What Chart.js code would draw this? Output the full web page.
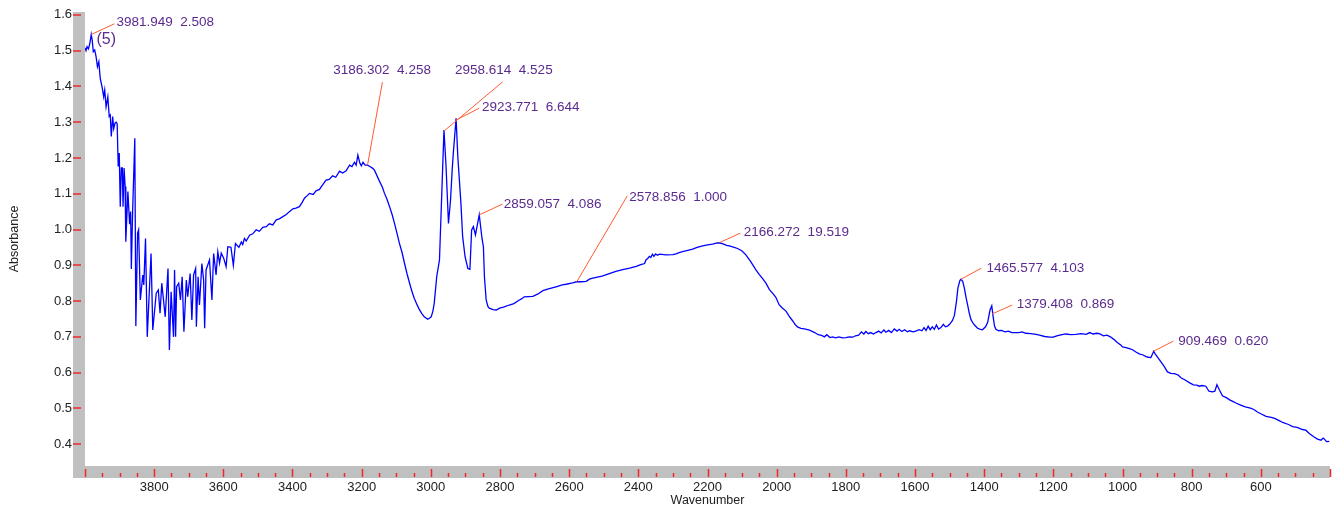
<!DOCTYPE html>
<html>
<head>
<meta charset="utf-8">
<script src="https://cdn.jsdelivr.net/npm/chart.js@4.4.1/dist/chart.umd.min.js"></script>
<style>
  html, body { margin: 0; padding: 0; background: #fff; }
  #wrap { width: 1333px; height: 508px; }
</style>
</head>
<body>
<div id="wrap"><canvas id="irChart" width="1333" height="508"></canvas></div>
<script>
// spectrum (cm-1, absorbance), 10 per row
const wavenumbers = [
  4000, 3997, 3994, 3990, 3986, 3982, 3979, 3976, 3972, 3968,
  3964, 3960, 3956, 3950, 3946, 3943, 3939, 3934, 3930, 3927,
  3924, 3920, 3917, 3913, 3910, 3907, 3904, 3901, 3898, 3895,
  3892, 3890, 3887, 3884, 3882, 3876, 3871, 3868, 3866, 3862,
  3856, 3853, 3848, 3845, 3840, 3833, 3830, 3825, 3820, 3809,
  3804, 3794, 3788, 3783, 3778, 3768, 3760, 3756, 3751, 3744,
  3741, 3738, 3735, 3729, 3724, 3719, 3714, 3707, 3703, 3696,
  3691, 3686, 3680, 3678, 3673, 3669, 3662, 3657, 3654, 3650,
  3640, 3633, 3628, 3621, 3616, 3611, 3606, 3599, 3592, 3587,
  3578, 3571, 3565, 3555, 3548, 3544, 3539, 3534, 3524, 3515,
  3505, 3496, 3486, 3476, 3467, 3457, 3447, 3438, 3428, 3418,
  3409, 3399, 3390, 3380, 3372, 3365, 3358, 3351, 3340, 3332,
  3322, 3315, 3303, 3294, 3284, 3275, 3264, 3255, 3245, 3235,
  3228, 3221, 3216, 3211, 3205, 3201, 3196, 3190, 3183, 3176,
  3168, 3163, 3149, 3140, 3134, 3127, 3120, 3112, 3105, 3098,
  3091, 3083, 3076, 3069, 3062, 3055, 3048, 3040, 3033, 3026,
  3019, 3009, 3004, 2999, 2994, 2990, 2983, 2975, 2970, 2962,
  2956, 2949, 2943, 2938, 2935, 2927, 2922, 2913, 2908, 2901,
  2893, 2887, 2882, 2877, 2871, 2860, 2852, 2848, 2845, 2840,
  2835, 2831, 2820, 2811, 2801, 2790, 2773, 2760, 2744, 2738,
  2730, 2705, 2690, 2676, 2660, 2638, 2620, 2609, 2590, 2578,
  2565, 2551, 2540, 2522, 2505, 2484, 2465, 2445, 2425, 2406,
  2395, 2382, 2378, 2373, 2368, 2364, 2359, 2355, 2350, 2345,
  2339, 2320, 2300, 2291, 2280, 2272, 2260, 2243, 2230, 2214,
  2200, 2185, 2175, 2166, 2155, 2145, 2137, 2125, 2113, 2100,
  2089, 2075, 2060, 2050, 2040, 2031, 2021, 2010, 2002, 1993,
  1983, 1973, 1964, 1954, 1947, 1940, 1930, 1920, 1905, 1890,
  1880, 1870, 1862, 1855, 1846, 1838, 1830, 1820, 1810, 1800,
  1790, 1780, 1772, 1763, 1755, 1748, 1742, 1735, 1728, 1720,
  1713, 1705, 1698, 1690, 1684, 1676, 1668, 1660, 1652, 1646,
  1638, 1630, 1622, 1616, 1605, 1596, 1588, 1580, 1574, 1568,
  1562, 1556, 1550, 1544, 1538, 1532, 1525, 1518, 1512, 1506,
  1500, 1492, 1486, 1480, 1476, 1470, 1467, 1462, 1457, 1452,
  1447, 1443, 1438, 1432, 1428, 1419, 1411, 1405, 1396, 1390,
  1383, 1378, 1374, 1370, 1366, 1358, 1350, 1340, 1330, 1320,
  1300, 1290, 1280, 1265, 1250, 1240, 1225, 1210, 1200, 1190,
  1175, 1164, 1150, 1135, 1120, 1105, 1095, 1085, 1075, 1067,
  1055, 1045, 1035, 1025, 1015, 1005, 1000, 990, 980, 971,
  960, 950, 942, 932, 925, 918, 912, 910, 905, 894,
  880, 870, 860, 850, 840, 830, 820, 807, 795, 785,
  778, 770, 759, 750, 740, 733, 727, 720, 711, 700,
  690, 680, 672, 660, 645, 630, 620, 610, 600, 585,
  570, 560, 547, 535, 520, 508, 495, 480, 470, 460,
  446, 436, 426, 420, 416, 410, 402
];
const absorbance = [
  1.508, 1.500, 1.511, 1.505, 1.520, 1.545, 1.528, 1.497, 1.502, 1.483,
  1.455, 1.469, 1.423, 1.395, 1.371, 1.390, 1.343, 1.371, 1.316, 1.320,
  1.260, 1.316, 1.282, 1.298, 1.300, 1.296, 1.176, 1.214, 1.064, 1.172,
  1.172, 1.064, 1.172, 1.120, 0.966, 1.106, 1.015, 1.050, 0.890, 1.060,
  1.255, 0.730, 0.990, 0.999, 0.803, 0.873, 0.845, 0.975, 0.700, 0.933,
  0.719, 0.822, 0.831, 0.766, 0.850, 0.756, 0.891, 0.663, 0.826, 0.700,
  0.887, 0.700, 0.840, 0.850, 0.803, 0.868, 0.714, 0.859, 0.812, 0.877,
  0.747, 0.873, 0.891, 0.728, 0.868, 0.789, 0.905, 0.859, 0.724, 0.887,
  0.915, 0.803, 0.933, 0.873, 0.938, 0.906, 0.934, 0.920, 0.896, 0.952,
  0.950, 0.900, 0.961, 0.950, 0.965, 0.958, 0.975, 0.968, 0.984, 0.988,
  0.999, 0.995, 1.006, 1.008, 1.016, 1.013, 1.027, 1.030, 1.036, 1.042,
  1.050, 1.058, 1.060, 1.064, 1.076, 1.088, 1.094, 1.101, 1.098, 1.108,
  1.112, 1.122, 1.138, 1.140, 1.150, 1.146, 1.163, 1.158, 1.164, 1.180,
  1.176, 1.188, 1.180, 1.208, 1.185, 1.178, 1.188, 1.180, 1.180, 1.176,
  1.171, 1.166, 1.136, 1.118, 1.101, 1.085, 1.066, 1.042, 1.017, 0.990,
  0.962, 0.935, 0.905, 0.877, 0.852, 0.828, 0.808, 0.790, 0.776, 0.765,
  0.756, 0.749, 0.752, 0.756, 0.772, 0.795, 0.868, 0.915, 1.055, 1.278,
  1.176, 1.017, 1.083, 1.171, 1.213, 1.311, 1.204, 1.073, 0.980, 0.924,
  0.891, 0.889, 0.999, 1.008, 0.985, 1.041, 0.975, 0.952, 0.868, 0.803,
  0.785, 0.780, 0.776, 0.775, 0.780, 0.783, 0.789, 0.793, 0.803, 0.806,
  0.812, 0.813, 0.820, 0.829, 0.834, 0.840, 0.845, 0.847, 0.851, 0.854,
  0.854, 0.855, 0.862, 0.866, 0.870, 0.877, 0.883, 0.888, 0.892, 0.897,
  0.901, 0.905, 0.915, 0.919, 0.925, 0.922, 0.931, 0.925, 0.932, 0.928,
  0.931, 0.929, 0.930, 0.932, 0.936, 0.938, 0.941, 0.945, 0.950, 0.954,
  0.957, 0.959, 0.962, 0.963, 0.960, 0.956, 0.954, 0.951, 0.947, 0.940,
  0.929, 0.910, 0.887, 0.874, 0.862, 0.850, 0.832, 0.820, 0.810, 0.790,
  0.780, 0.772, 0.758, 0.745, 0.735, 0.728, 0.724, 0.722, 0.719, 0.712,
  0.706, 0.704, 0.700, 0.706, 0.698, 0.700, 0.697, 0.700, 0.697, 0.698,
  0.700, 0.699, 0.703, 0.705, 0.714, 0.708, 0.715, 0.709, 0.712, 0.708,
  0.712, 0.716, 0.711, 0.719, 0.713, 0.718, 0.712, 0.722, 0.716, 0.721,
  0.715, 0.720, 0.714, 0.717, 0.714, 0.717, 0.720, 0.717, 0.726, 0.718,
  0.730, 0.720, 0.728, 0.721, 0.733, 0.722, 0.726, 0.735, 0.728, 0.730,
  0.735, 0.745, 0.760, 0.800, 0.836, 0.858, 0.861, 0.855, 0.835, 0.808,
  0.785, 0.766, 0.748, 0.738, 0.733, 0.724, 0.721, 0.720, 0.728, 0.740,
  0.775, 0.787, 0.756, 0.730, 0.721, 0.717, 0.718, 0.714, 0.716, 0.712,
  0.712, 0.714, 0.710, 0.709, 0.707, 0.705, 0.701, 0.699, 0.699, 0.703,
  0.706, 0.708, 0.706, 0.707, 0.709, 0.707, 0.712, 0.708, 0.710, 0.709,
  0.703, 0.705, 0.700, 0.693, 0.684, 0.677, 0.672, 0.670, 0.667, 0.664,
  0.657, 0.652, 0.650, 0.645, 0.643, 0.642, 0.655, 0.660, 0.652, 0.637,
  0.618, 0.602, 0.598, 0.597, 0.594, 0.585, 0.580, 0.572, 0.566, 0.565,
  0.562, 0.564, 0.562, 0.548, 0.546, 0.548, 0.566, 0.552, 0.535, 0.530,
  0.524, 0.519, 0.515, 0.510, 0.504, 0.501, 0.497, 0.490, 0.485, 0.478,
  0.475, 0.472, 0.466, 0.460, 0.455, 0.449, 0.447, 0.441, 0.439, 0.430,
  0.420, 0.414, 0.411, 0.417, 0.414, 0.407, 0.408
];

const yTicks = [0.4, 0.5, 0.6, 0.7, 0.8, 0.9, 1.0, 1.1, 1.2, 1.3, 1.4, 1.5, 1.6];
const xTickLabels = [3800, 3600, 3400, 3200, 3000, 2800, 2600, 2400, 2200, 2000, 1800, 1600, 1400, 1200, 1000, 800, 600];

// peak picks: label text, point on curve, leader end, text start (data units)
const peakTexts = ['3981.949  2.508', '3186.302  4.258', '2958.614  4.525', '2923.771  6.644', '2859.057  4.086',
  '2578.856  1.000', '2166.272  19.519', '1465.577  4.103', '1379.408  0.869', '909.469  0.620'];
const peakAt = [[3982, 1.545], [3183, 1.180], [2961, 1.276], [2927, 1.306], [2860, 1.041],
  [2578, 0.854], [2166, 0.963], [1467, 0.861], [1377, 0.764], [910, 0.660]];
const leaderEnd = [[3915, 1.575], [3140, 1.412], [2792, 1.413], [2860, 1.339], [2793, 1.071],
  [2432, 1.094], [2105, 0.990], [1408, 0.892], [1319, 0.789], [853, 0.688]];
const textAt = [[3909, 1.580], [3282, 1.444], [2930, 1.444], [2852, 1.342], [2789, 1.071],
  [2426, 1.091], [2095, 0.992], [1393, 0.891], [1306, 0.792], [839, 0.689]];

const points = wavenumbers.map((w, i) => ({ x: w, y: absorbance[i] }));

const bandsPlugin = {
  id: 'bands',
  beforeDatasetsDraw(chart) {
    const { ctx, chartArea } = chart;
    const x = chart.scales.x, y = chart.scales.y;
    const band = 12;
    ctx.save();
    ctx.fillStyle = '#c0c0c0';
    ctx.fillRect(chartArea.left - band, chartArea.top, band, chartArea.bottom - chartArea.top + band);
    ctx.fillRect(chartArea.left - band, chartArea.bottom, chartArea.right - chartArea.left + band, band);
    ctx.strokeStyle = '#f02828';
    ctx.lineWidth = 1.5;
    yTicks.forEach(v => {
      const py = Math.round(y.getPixelForValue(v));
      ctx.beginPath();
      ctx.moveTo(chartArea.left - band, py);
      ctx.lineTo(chartArea.left - band + 8, py);
      ctx.stroke();
    });
    for (let v = 4000; v >= 400; v -= 50) {
      const px = Math.round(x.getPixelForValue(v)) + 0.5;
      const len = v % 200 === 0 ? 8 : 4;
      ctx.beginPath();
      ctx.moveTo(px, chartArea.bottom + band - 1);
      ctx.lineTo(px, chartArea.bottom + band - 1 - len);
      ctx.stroke();
    }
    ctx.restore();
  },
  afterDatasetsDraw(chart) {
    const { ctx } = chart;
    const x = chart.scales.x, y = chart.scales.y;
    ctx.save();
    ctx.strokeStyle = '#ff5a32';
    ctx.lineWidth = 1;
    ctx.fillStyle = '#5b2a8e';
    ctx.textBaseline = 'middle';
    ctx.font = '13.5px "Liberation Sans", Arial, sans-serif';
    peakTexts.forEach((t, i) => {
      ctx.beginPath();
      ctx.moveTo(x.getPixelForValue(peakAt[i][0]), y.getPixelForValue(peakAt[i][1]));
      ctx.lineTo(x.getPixelForValue(leaderEnd[i][0]), y.getPixelForValue(leaderEnd[i][1]));
      ctx.stroke();
      ctx.fillText(t, x.getPixelForValue(textAt[i][0]), y.getPixelForValue(textAt[i][1]));
    });
    ctx.font = '16px "Liberation Sans", Arial, sans-serif';
    ctx.fillText('(5)', x.getPixelForValue(3967), y.getPixelForValue(1.530));
    ctx.restore();
  }
};

new Chart(document.getElementById('irChart'), {
  type: 'line',
  data: {
    datasets: [{
      data: points,
      borderColor: '#0000ff',
      borderWidth: 1.3,
      pointRadius: 0,
      tension: 0,
      fill: false
    }]
  },
  options: {
    responsive: false,
    animation: false,
    devicePixelRatio: 1,
    layout: { padding: { left: 0, top: 12, right: 3, bottom: 0 } },
    plugins: { legend: { display: false }, tooltip: { enabled: false } },
    scales: {
      x: {
        type: 'linear',
        reverse: true,
        min: 400,
        max: 4000,
        grid: { display: false, drawTicks: false },
        border: { display: false },
        afterBuildTicks: s => { s.ticks = xTickLabels.map(v => ({ value: v })); },
        afterFit: s => { s.height = 42; s.paddingLeft = 0; s.paddingRight = 0; },
        ticks: {
          padding: 14,
          maxRotation: 0,
          autoSkip: false,
          color: '#222',
          font: { family: '"Liberation Sans", Arial, sans-serif', size: 13 },
          callback: v => String(v)
        },
        title: {
          display: true,
          text: 'Wavenumber',
          color: '#222',
          padding: { top: 0, bottom: 0 },
          font: { family: '"Liberation Sans", Arial, sans-serif', size: 12.5 }
        }
      },
      y: {
        min: 0.339,
        max: 1.608,
        grid: { display: false, drawTicks: false },
        border: { display: false },
        afterBuildTicks: s => { s.ticks = yTicks.map(v => ({ value: v })); },
        afterFit: s => { s.width = 85; s.paddingTop = 0; s.paddingBottom = 0; },
        ticks: {
          padding: 13,
          color: '#222',
          font: { family: '"Liberation Sans", Arial, sans-serif', size: 13 },
          callback: v => v.toFixed(1)
        },
        title: {
          display: true,
          text: 'Absorbance',
          color: '#222',
          padding: { top: 7, bottom: 0 },
          font: { family: '"Liberation Sans", Arial, sans-serif', size: 12.5 }
        }
      }
    }
  },
  plugins: [bandsPlugin]
});
</script>
</body>
</html>
